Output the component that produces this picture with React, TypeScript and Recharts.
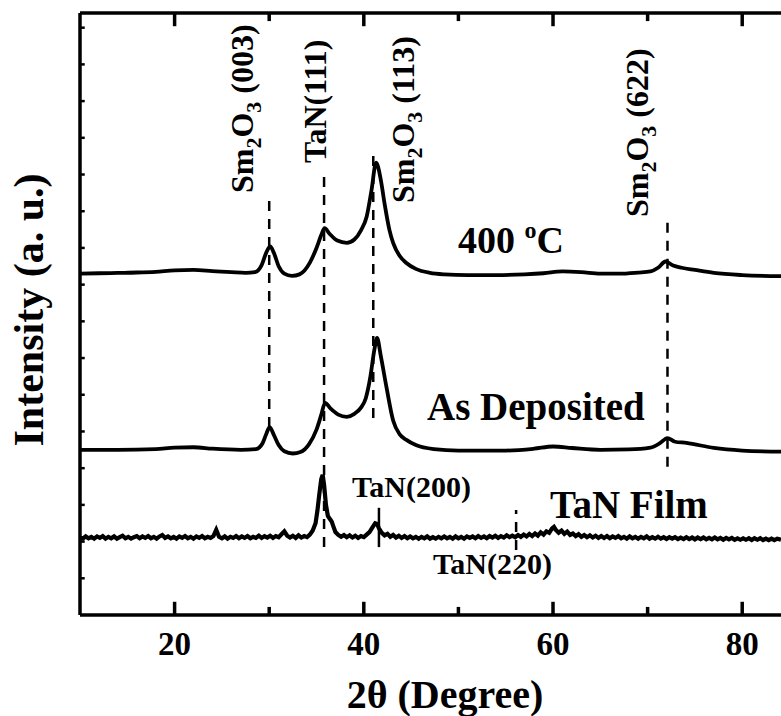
import React from "react";
import { LineChart, Line, XAxis, YAxis, ReferenceLine } from "recharts";

// 2θ (deg) / intensity (a.u., curves stacked with offsets)
const annealed400: [number, number][] = [
  [10, 93.0], [12, 93.1], [14, 93.2], [16, 93.3], [18, 93.5], [20, 93.9], [22, 94.0],
  [24, 93.7], [26, 93.4], [27.5, 93.2], [28.5, 93.4], [29.2, 95.3], [29.7, 98.8],
  [30.1, 100.4], [30.5, 98.6], [31.0, 95.0], [31.6, 93.0], [32.4, 92.4], [33.2, 92.8],
  [34.3, 96.0], [35.0, 100.0], [35.5, 103.5], [35.85, 105.4], [36.4, 103.8], [37.2, 102.0],
  [38.2, 101.4], [39.0, 102.3], [39.7, 104.8], [40.3, 108.5], [40.8, 115.5], [41.3, 123.2],
  [41.8, 118.5], [42.2, 112.0], [42.7, 105.0], [43.1, 101.4], [43.8, 97.8], [44.5, 95.9],
  [45.5, 94.3], [47, 93.2], [48.5, 92.8], [51, 92.6], [54, 92.6], [57, 92.8], [59, 93.1],
  [61, 93.6], [63, 93.4], [65, 93.0], [67, 93.0], [69, 93.3], [70.3, 93.6], [71.1, 94.6],
  [71.9, 96.3], [72.7, 95.2], [73.6, 94.6], [75, 94.0], [77, 93.2], [80, 92.6], [84.1, 92.3],
];

const asDeposited: [number, number][] = [
  [10, 45.0], [14, 45.0], [18, 45.2], [20, 45.6], [22, 45.7], [24, 45.3], [27, 45.0],
  [28.6, 45.2], [29.3, 46.8], [29.7, 49.4], [30.05, 51.2], [30.5, 49.0], [31.0, 46.3],
  [31.6, 44.6], [32.5, 44.0], [33.3, 44.4], [34.2, 46.5], [35.0, 50.5], [35.5, 54.5],
  [35.9, 57.8], [36.5, 56.2], [37.3, 54.6], [38.2, 54.0], [39.0, 54.8], [39.7, 56.5],
  [40.2, 59.0], [40.7, 65.0], [41.1, 72.0], [41.4, 75.5], [41.8, 70.5], [42.4, 62.0],
  [43.1, 53.0], [43.8, 49.2], [44.5, 47.7], [45.5, 46.3], [47.4, 45.2], [50, 44.8],
  [55, 44.8], [58, 45.3], [60, 45.9], [62, 45.5], [65, 45.0], [68, 45.1], [70.3, 45.6],
  [71.3, 46.8], [72.1, 48.2], [72.9, 47.2], [74.1, 46.9], [77, 45.5], [80, 44.8], [84.1, 44.5],
];

const tanFilm: [number, number][] = [
  [10, 21.1], [10.3, 20.8], [10.6, 21.4], [10.9, 20.9], [11.2, 21.3], [11.5, 20.8], [11.8, 21.4],
  [12.1, 21.0], [12.4, 21.5], [12.7, 20.8], [13.0, 21.3], [13.3, 20.9], [13.6, 21.4], [13.9, 20.8],
  [14.2, 21.2], [14.5, 21.6], [14.8, 20.9], [15.1, 21.3], [15.4, 20.8], [15.7, 21.2], [16.0, 21.5],
  [16.3, 20.9], [16.6, 21.4], [16.9, 21.0], [17.2, 21.5], [17.5, 20.9], [17.8, 21.3], [18.1, 20.8],
  [18.4, 21.4], [18.7, 21.8], [19.0, 21.0], [19.3, 21.4], [19.6, 20.9], [19.9, 21.3], [20.2, 20.8],
  [20.5, 21.4], [20.8, 21.0], [21.1, 21.5], [21.4, 20.9], [21.7, 21.3], [22.0, 20.8], [22.3, 21.4],
  [22.6, 21.0], [22.9, 21.5], [23.2, 20.9], [23.5, 21.3], [23.8, 21.0], [24.1, 21.5], [24.4, 23.2],
  [24.7, 21.3], [25.0, 20.9], [25.3, 21.4], [25.6, 20.8], [25.9, 21.3], [26.2, 21.0], [26.5, 21.5],
  [26.8, 20.9], [27.1, 21.4], [27.4, 21.0], [27.7, 21.5], [28.0, 20.9], [28.3, 21.3], [28.6, 21.0],
  [28.9, 21.6], [29.2, 21.0], [29.5, 21.5], [29.8, 21.1], [30.1, 21.6], [30.4, 21.0], [30.7, 21.5],
  [31.0, 21.2], [31.3, 22.0], [31.6, 22.8], [31.9, 21.6], [32.2, 21.1], [32.5, 21.6], [32.8, 21.0],
  [33.1, 21.7], [33.4, 21.1], [33.7, 21.5], [34.0, 21.2], [34.3, 21.9], [34.6, 23.0], [34.9, 25.0],
  [35.1, 28.5], [35.3, 33.0], [35.5, 37.0], [35.65, 38.2], [35.8, 35.5], [36.0, 30.0], [36.2, 27.0],
  [36.4, 26.2], [36.6, 25.5], [36.8, 24.0], [37.0, 22.6], [37.3, 21.8], [37.6, 21.3], [37.9, 21.8],
  [38.2, 21.2], [38.5, 21.7], [38.8, 21.1], [39.1, 21.6], [39.4, 21.0], [39.7, 21.5], [40.0, 21.2],
  [40.3, 21.9], [40.6, 22.6], [40.9, 23.8], [41.2, 25.0], [41.4, 24.8], [41.6, 23.6], [41.9, 22.4],
  [42.2, 21.7], [42.5, 22.1], [42.8, 21.3], [43.1, 21.8], [43.4, 21.1], [43.7, 21.6], [44.0, 21.0],
  [44.3, 21.5], [44.6, 20.9], [44.9, 21.4], [45.2, 20.9], [45.5, 21.3], [45.8, 20.8], [46.1, 21.3],
  [46.4, 20.9], [46.7, 21.4], [47.0, 20.8], [47.3, 21.2], [47.6, 20.8], [47.9, 21.3], [48.2, 20.9],
  [48.5, 21.4], [48.8, 20.9], [49.1, 21.3], [49.4, 20.8], [49.7, 21.4], [50.0, 20.9], [50.3, 21.3],
  [50.6, 20.8], [50.9, 21.4], [51.2, 21.0], [51.5, 21.4], [51.8, 20.9], [52.1, 21.5], [52.4, 21.0],
  [52.7, 21.4], [53.0, 20.9], [53.3, 21.5], [53.6, 21.1], [53.9, 21.6], [54.2, 21.0], [54.5, 21.5],
  [54.8, 21.1], [55.1, 21.7], [55.4, 21.2], [55.7, 21.6], [56.0, 21.2], [56.3, 21.8], [56.6, 21.3],
  [56.9, 21.9], [57.2, 21.4], [57.5, 22.1], [57.8, 21.5], [58.1, 22.2], [58.4, 21.6], [58.7, 22.5],
  [59.0, 21.9], [59.3, 22.8], [59.6, 22.4], [59.9, 23.6], [60.1, 24.0], [60.3, 23.2], [60.6, 22.4],
  [60.9, 23.0], [61.2, 22.1], [61.5, 22.7], [61.8, 21.8], [62.1, 22.2], [62.4, 21.5], [62.7, 22.0],
  [63.0, 21.3], [63.3, 21.8], [63.6, 21.2], [63.9, 21.7], [64.2, 21.1], [64.5, 21.6], [64.8, 21.0],
  [65.1, 21.5], [65.4, 21.0], [65.7, 21.5], [66.0, 20.9], [66.3, 21.4], [66.6, 21.0], [66.9, 21.5],
  [67.2, 20.9], [67.5, 21.3], [67.8, 20.8], [68.1, 21.4], [68.4, 20.9], [68.7, 21.3], [69.0, 20.8],
  [69.3, 21.3], [69.6, 20.9], [69.9, 21.4], [70.2, 20.8], [70.5, 21.2], [70.8, 20.8], [71.1, 21.3],
  [71.4, 20.8], [71.7, 21.2], [72.0, 20.7], [72.3, 21.2], [72.6, 20.8], [72.9, 21.2], [73.2, 20.7],
  [73.5, 21.1], [73.8, 20.7], [74.1, 21.2], [74.4, 20.7], [74.7, 21.1], [75.0, 20.6], [75.3, 21.1],
  [75.6, 20.7], [75.9, 21.1], [76.2, 20.6], [76.5, 21.0], [76.8, 20.6], [77.1, 21.1], [77.4, 20.6],
  [77.7, 21.0], [78.0, 20.5], [78.3, 21.0], [78.6, 20.6], [78.9, 21.0], [79.2, 20.5], [79.5, 20.9],
  [79.8, 20.5], [80.1, 20.9], [80.4, 20.5], [80.7, 20.9], [81.0, 20.4], [81.3, 20.9], [81.6, 20.5],
  [81.9, 20.9], [82.2, 20.4], [82.5, 20.8], [82.8, 20.4], [83.1, 20.8], [83.4, 20.4], [83.7, 20.8],
  [84.1, 20.5],
];

// peak marker lines: [2θ, from, to]
const dashedMarkers: [number, number, number][] = [
  [30.0, 51.2, 113.6],
  [35.8, 18.5, 119.9],
  [41.0, 53.7, 126.7],
  [72.1, 40.4, 107.2],
  [56.1, 17.7, 28.6],
];
const solidMarkers: [number, number, number][] = [[41.6, 18.5, 29.2]];

const X_MIN = 10;
const X_MAX = 84.1;
const Y_MIN = 0;
const Y_MAX = 164;
const xTicks = [20, 30, 40, 50, 60, 70, 80];
const xLabelled = [20, 40, 60, 80];
const yTicks = [10, 20, 30, 40, 50, 60, 70, 80, 90, 100, 110, 120, 130, 140, 150, 160];

const toRows = (pts: [number, number][]) => pts.map(([t, i]) => ({ t, i }));

const FONT = "'Liberation Serif', 'Times New Roman', serif";
const W = 781;
const H = 716;
const LEFT = 80;
const TOP = 13;
const BOTTOM = 615;

// inward tick lengths, in axis units
const majorLen = 3.6;
const minorLen = 2.2;
const leftLen = 0.5;

const BottomLabel = (props: any) => {
  const { x, payload } = props;
  if (!xLabelled.includes(payload.value)) return <g />;
  return (
    <text x={x} y={BOTTOM + 40} textAnchor="middle" fontFamily={FONT} fontWeight="bold" fontSize={33} fill="#000">
      {payload.value}
    </text>
  );
};

const Sm2O3 = ({ x, y, tail }: { x: number; y: number; tail: string }) => (
  <text x={x} y={y} transform={`rotate(-90 ${x} ${y})`} fontFamily={FONT} fontWeight="bold" fontSize={32} fill="#000">
    Sm<tspan dy={8} fontSize={22}>2</tspan>
    <tspan dy={-8}>O</tspan>
    <tspan dy={8} fontSize={22}>3</tspan>
    <tspan dy={-8}>{" " + tail}</tspan>
  </text>
);

const axisStroke = { stroke: "#000", strokeWidth: 3.5 };

export default function App() {
  return (
    <div style={{ position: "absolute", left: 0, top: 0, width: W, height: H, background: "#fff" }}>
      <LineChart width={W} height={H} margin={{ top: 0, right: 0, bottom: 0, left: 0 }}>
        <XAxis
          dataKey="t"
          type="number"
          domain={[X_MIN, X_MAX]}
          allowDataOverflow
          ticks={xTicks}
          interval={0}
          height={H - BOTTOM}
          tickSize={0}
          tickMargin={0}
          tickLine={false}
          axisLine={axisStroke}
          tick={<BottomLabel />}
        />
        <XAxis
          xAxisId="top"
          orientation="top"
          type="number"
          domain={[X_MIN, X_MAX]}
          allowDataOverflow
          height={TOP}
          tick={false}
          tickLine={false}
          axisLine={axisStroke}
        />
        <YAxis
          type="number"
          domain={[Y_MIN, Y_MAX]}
          allowDataOverflow
          width={LEFT}
          tick={false}
          tickLine={false}
          axisLine={axisStroke}
        />
        {xTicks.map((t) => {
          const len = xLabelled.includes(t) ? majorLen : minorLen;
          return (
            <React.Fragment key={`xt${t}`}>
              <ReferenceLine
                segment={[{ x: t, y: Y_MIN }, { x: t, y: Y_MIN + len }]}
                stroke="#000"
                strokeWidth={3.5}
                ifOverflow="visible"
              />
              <ReferenceLine
                segment={[{ x: t, y: Y_MAX }, { x: t, y: Y_MAX - len }]}
                stroke="#000"
                strokeWidth={3.5}
                ifOverflow="visible"
              />
            </React.Fragment>
          );
        })}
        {yTicks.map((v) => (
          <ReferenceLine
            key={`yt${v}`}
            segment={[{ x: X_MIN, y: v }, { x: X_MIN + leftLen, y: v }]}
            stroke="#000"
            strokeWidth={2.5}
            ifOverflow="visible"
          />
        ))}
        {dashedMarkers.map(([t, a, b], k) => (
          <ReferenceLine
            key={`d${k}`}
            segment={[{ x: t, y: a }, { x: t, y: b }]}
            stroke="#000"
            strokeWidth={2.5}
            strokeDasharray="10 8"
          />
        ))}
        {solidMarkers.map(([t, a, b], k) => (
          <ReferenceLine key={`s${k}`} segment={[{ x: t, y: a }, { x: t, y: b }]} stroke="#000" strokeWidth={2.5} />
        ))}
        <Line data={toRows(annealed400)} dataKey="i" type="monotone" stroke="#000" strokeWidth={3.8} dot={false} activeDot={false} isAnimationActive={false} />
        <Line data={toRows(asDeposited)} dataKey="i" type="monotone" stroke="#000" strokeWidth={3.8} dot={false} activeDot={false} isAnimationActive={false} />
        <Line data={toRows(tanFilm)} dataKey="i" type="linear" stroke="#000" strokeWidth={4.2} dot={false} activeDot={false} isAnimationActive={false} />
      </LineChart>
      <svg width={W} height={H} style={{ position: "absolute", left: 0, top: 0, pointerEvents: "none" }}>
        <Sm2O3 x={253} y={193} tail="(003)" />
        <text x={326} y={163} transform="rotate(-90 326 163)" fontFamily={FONT} fontWeight="bold" fontSize={32} fill="#000">
          TaN(111)
        </text>
        <Sm2O3 x={414} y={203} tail="(113)" />
        <Sm2O3 x={648} y={217} tail="(622)" />
        <text x={458} y={253} fontFamily={FONT} fontWeight="bold" fontSize={38} fill="#000">
          400 <tspan dy={-15} fontSize={24}>o</tspan>
          <tspan dy={15}>C</tspan>
        </text>
        <text x={427} y={420} fontFamily={FONT} fontWeight="bold" fontSize={39} fill="#000">
          As Deposited
        </text>
        <text x={550} y={518} fontFamily={FONT} fontWeight="bold" fontSize={39} fill="#000">
          TaN Film
        </text>
        <text x={352} y={497} fontFamily={FONT} fontWeight="bold" fontSize={30} fill="#000">
          TaN(200)
        </text>
        <text x={433} y={574} fontFamily={FONT} fontWeight="bold" fontSize={30} fill="#000">
          TaN(220)
        </text>
        <text x={445} y={708} textAnchor="middle" fontFamily={FONT} fontWeight="bold" fontSize={40} fill="#000">
          2θ (Degree)
        </text>
        <text x={43} y={310} transform="rotate(-90 43 310)" textAnchor="middle" fontFamily={FONT} fontWeight="bold" fontSize={42} fill="#000">
          Intensity (a. u.)
        </text>
      </svg>
    </div>
  );
}
